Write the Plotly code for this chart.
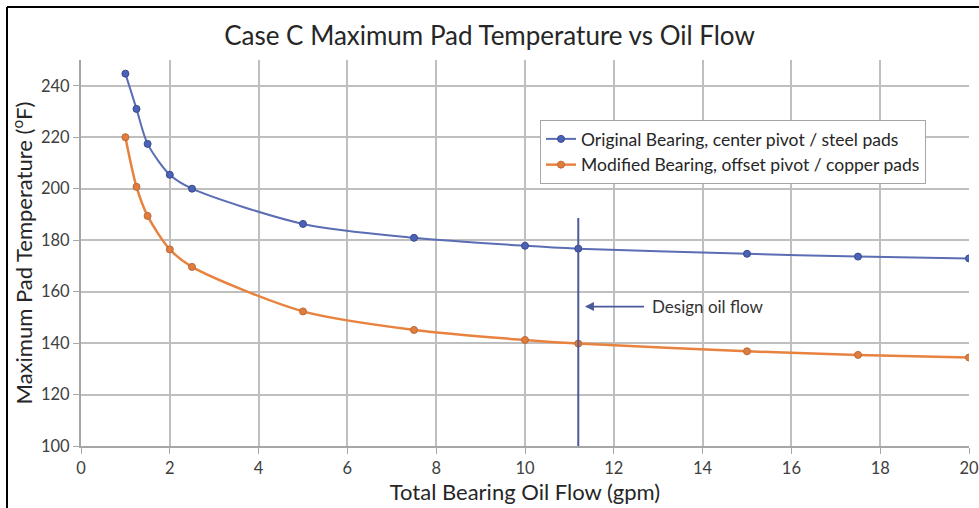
import plotly.graph_objects as go

flow = [1, 1.25, 1.5, 2, 2.5, 5, 7.5, 10, 11.2, 15, 17.5, 20]
original = [244.7, 231.0, 217.4, 205.4, 200.0, 186.3, 180.9, 177.8, 176.7, 174.7, 173.6, 172.9]
modified = [220.0, 200.7, 189.4, 176.4, 169.6, 152.3, 145.1, 141.2, 139.8, 136.8, 135.4, 134.4]
design_flow = 11.2
design_line_top = 188.6
arrow_y = 154.2

names = ["Original Bearing, center pivot / steel pads",
         "Modified Bearing, offset pivot / copper pads"]

FONT = "Lato"

fig = go.Figure()
fig.add_trace(go.Scatter(
    x=flow, y=original, name=names[0], mode="lines+markers",
    line=dict(color="#5B6DB3", width=2, shape="spline", smoothing=0.8),
    marker=dict(color="#4A62B8", size=7, line=dict(color="#3A4A8A", width=1)),
))
fig.add_trace(go.Scatter(
    x=flow, y=modified, name=names[1], mode="lines+markers",
    line=dict(color="#E8823F", width=2.5, shape="spline", smoothing=0.8),
    marker=dict(color="#E07C3C", size=7, line=dict(color="#B86A3A", width=1)),
))

# design oil flow vertical line
fig.add_shape(type="line", x0=design_flow, x1=design_flow, y0=100, y1=design_line_top,
              xref="x", yref="y", line=dict(color="#4A5A9A", width=2))
fig.add_annotation(x=design_flow + 0.15, y=arrow_y, ax=design_flow + 1.55, ay=arrow_y,
                   xref="x", yref="y", axref="x", ayref="y",
                   showarrow=True, arrowhead=2, arrowsize=1, arrowwidth=1.8,
                   arrowcolor="#4A5A9A", text=" ")
fig.add_annotation(x=design_flow + 1.62, y=arrow_y, xref="x", yref="y",
                   text="Design oil flow", showarrow=False, xanchor="left",
                   font=dict(family=FONT, size=17, color="#333333"))

# outer border
fig.add_shape(type="line", xref="paper", yref="paper",
              x0=-74/888, x1=1.2, y0=1 + 53/386, y1=1 + 53/386,
              line=dict(color="black", width=2))
fig.add_shape(type="line", xref="paper", yref="paper",
              x0=-74/888, x1=-74/888, y0=-0.3, y1=1 + 53/386,
              line=dict(color="black", width=2))

fig.update_layout(
    width=979, height=508,
    margin=dict(l=81, r=10, t=60, b=62),
    paper_bgcolor="white", plot_bgcolor="white",
    font=dict(family=FONT, color="#404040"),
    title=dict(text="Case C Maximum Pad Temperature vs Oil Flow",
               x=0.5, xanchor="center", y=1 - 36/508, yanchor="middle",
               font=dict(family=FONT, size=26, color="#262626")),
    showlegend=True,
    legend=dict(x=(540 - 81) / 888, y=(446 - 120) / 386, xanchor="left", yanchor="top",
                bgcolor="white", bordercolor="#A6A6A6", borderwidth=1,
                font=dict(family=FONT, size=17.5, color="#262626"),
                tracegroupgap=0, itemwidth=30),
    xaxis=dict(range=[0, 20], tickvals=list(range(0, 21, 2)), automargin=False,
               showgrid=True, gridcolor="#BFBFBF", gridwidth=2,
               showline=True, linecolor="#A6A6A6", linewidth=2,
               ticks="outside", ticklen=6, tickcolor="#A6A6A6",
               tickfont=dict(family=FONT, size=16.5, color="#404040"),
               title=dict(text="Total Bearing Oil Flow (gpm)", standoff=6,
                          font=dict(family=FONT, size=22, color="#262626")),
               zeroline=False),
    yaxis=dict(range=[100, 250], tickvals=list(range(100, 241, 20)), automargin=False,
               showgrid=True, gridcolor="#BFBFBF", gridwidth=2,
               showline=True, linecolor="#A6A6A6", linewidth=2,
               ticks="outside", ticklen=6, tickcolor="#A6A6A6",
               tickfont=dict(family=FONT, size=16.5, color="#404040"),
               title=dict(text="Maximum Pad Temperature (<sup>o</sup>F)", standoff=2,
                          font=dict(family=FONT, size=22, color="#262626")),
               zeroline=False),
)

fig.write_html("out.html")
